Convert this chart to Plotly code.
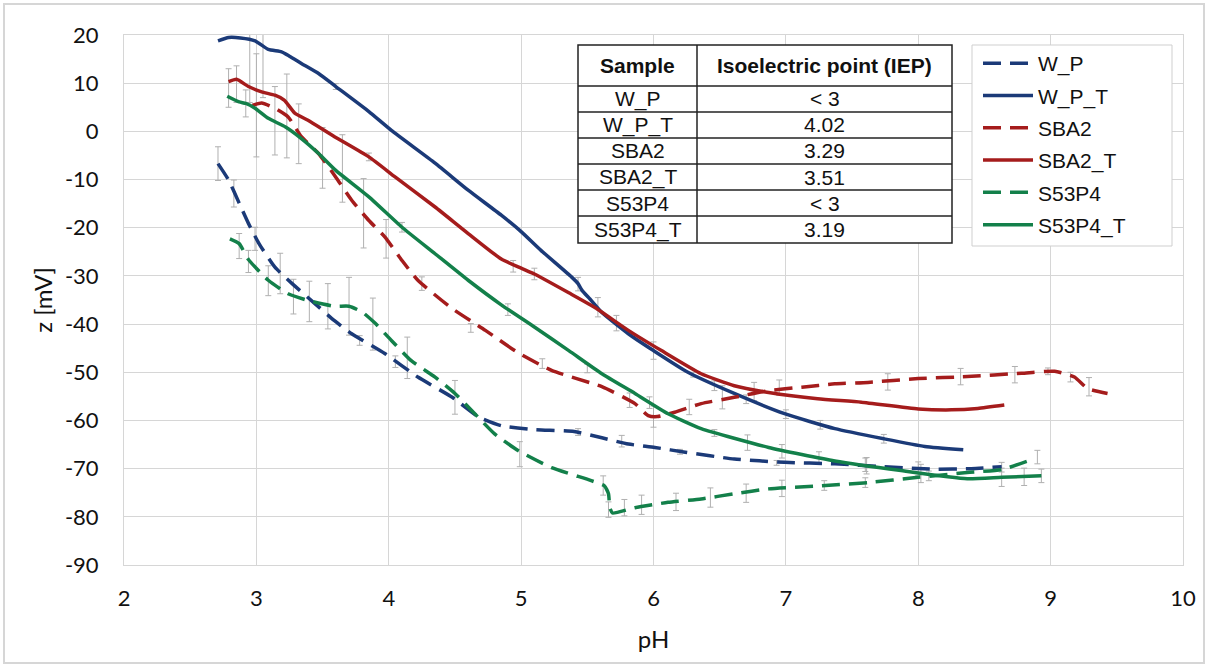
import plotly.graph_objects as go

# ---------------- data ----------------
WP_ph = [2.71, 2.79, 2.87, 2.94, 3.02, 3.14, 3.27, 3.44, 3.59, 3.72, 3.97, 4.22, 4.48, 4.68, 4.85,
         5.10, 5.40, 5.61, 5.81, 6.01, 6.24, 6.61, 6.99, 7.37, 7.74, 8.12, 8.40, 8.63]
WP_z = [-6.7, -10.1, -14.9, -19.1, -23.3, -28.2, -31.6, -35.7, -39.3, -42.0, -46.1, -51.0, -55.2, -59.3, -61.1,
        -61.9, -62.3, -63.6, -64.9, -65.6, -66.6, -68.0, -68.7, -69.0, -69.6, -70.1, -70.0, -69.6]

WPT_ph = [2.71, 2.79, 2.88, 2.99, 3.09, 3.19, 3.25, 3.34, 3.47, 3.60, 3.85, 4.02, 4.35, 4.60, 4.85, 5.00,
          5.15, 5.38, 5.43, 5.46, 5.52, 5.61, 5.81, 6.00, 6.26, 6.61, 6.99, 7.37, 7.74, 8.05, 8.34]
WPT_z = [18.8, 19.5, 19.4, 18.8, 17.0, 16.5, 15.6, 14.1, 12.0, 9.3, 4.1, 0.2, -6.6, -12.2, -17.4, -20.8,
         -24.7, -30.2, -31.6, -33.0, -34.8, -37.6, -42.0, -45.5, -50.0, -54.4, -58.6, -61.7, -63.8, -65.4, -66.1]

SBA2_ph = [2.97, 3.04, 3.14, 3.24, 3.34, 3.47, 3.60, 3.72, 3.85, 3.97, 4.10, 4.22, 4.48, 4.73, 4.98, 5.23,
           5.61, 5.86, 5.96, 6.03, 6.16, 6.36, 6.61, 6.87, 7.12, 7.37, 7.62, 8.00, 8.37, 8.78, 9.03, 9.18,
           9.28, 9.43]
SBA2_z = [5.4, 5.9, 4.8, 3.0, -1.1, -4.6, -9.5, -14.3, -18.5, -21.9, -26.8, -30.9, -36.8, -41.3, -46.0, -49.6,
          -53.0, -56.5, -59.0, -59.2, -58.3, -56.5, -55.2, -53.8, -53.1, -52.4, -52.1, -51.3, -50.9, -50.2, -49.8, -51.0,
          -53.4, -54.4]

SBA2T_ph = [2.79, 2.85, 2.94, 3.04, 3.14, 3.21, 3.29, 3.39, 3.59, 3.85, 4.05, 4.35, 4.60, 4.85, 5.00, 5.10, 5.36,
            5.56, 5.81, 6.06, 6.36, 6.61, 6.87, 7.24, 7.57, 8.00, 8.25, 8.45, 8.65]
SBA2T_z = [10.3, 10.8, 9.3, 8.2, 7.5, 6.5, 3.8, 2.3, -1.1, -5.3, -9.5, -15.7, -21.2, -26.5, -28.4, -29.6, -33.5,
           -36.6, -41.3, -45.5, -50.3, -52.8, -54.2, -55.5, -56.2, -57.6, -57.8, -57.5, -56.8]

S53_ph = [2.80, 2.87, 2.94, 3.09, 3.24, 3.39, 3.59, 3.70, 3.80, 3.90, 4.02, 4.17, 4.35, 4.50, 4.65, 4.80,
          4.98, 5.23, 5.53, 5.63, 5.66, 5.67, 5.69, 5.86, 6.11, 6.36, 6.61, 6.87, 7.24, 7.62, 8.00, 8.37,
          8.63, 8.83]
S53_z = [-22.3, -23.3, -26.6, -30.9, -33.7, -35.1, -36.3, -36.3, -37.5, -39.9, -43.4, -47.6, -51.0, -54.4, -58.6, -62.8,
         -66.3, -69.8, -72.5, -73.6, -75.2, -78.1, -79.2, -78.1, -77.0, -76.3, -75.2, -74.2, -73.6, -72.9, -71.8, -70.8,
         -70.2, -68.4]

S53T_ph = [2.78, 2.87, 2.92, 2.99, 3.09, 3.22, 3.34, 3.47, 3.60, 3.85, 4.10, 4.35, 4.60, 4.85, 5.10, 5.36,
           5.61, 5.86, 6.11, 6.36, 6.87, 7.37, 7.87, 8.37, 8.63, 8.93]
S53T_z = [7.3, 6.1, 5.8, 4.8, 2.7, 0.9, -1.5, -4.6, -8.1, -13.6, -19.9, -25.4, -30.9, -36.0, -40.6, -45.5,
          -50.3, -54.4, -58.6, -61.7, -65.6, -68.4, -70.4, -72.1, -71.8, -71.5]

# error bars (pH, centre z, +/- value)
WP_err_ph = [2.71, 2.83, 2.99, 3.18, 3.78, 4.05, 5.43, 5.76, 6.20, 6.93, 7.61, 8.00, 8.63]
WP_err_z = [-6.7, -12.9, -22.3, -29.5, -43.4, -47.8, -62.4, -64.3, -66.5, -68.8, -69.4, -70.0, -69.7]
WP_err_e = [3.5, 2.8, 2.4, 4.2, 1.0, 1.2, 0.7, 1.2, 0.5, 0.5, 1.7, 1.4, 1.0]

WPT_err_ph = [2.95, 3.05, 3.60, 5.43, 5.58, 5.72, 6.00, 6.30, 6.46, 6.70, 7.00, 7.26, 7.74]
WPT_err_z = [19.0, 18.0, 9.3, -31.7, -36.5, -39.8, -45.5, -50.5, -52.8, -55.6, -58.7, -60.9, -63.8]
WPT_err_e = [13.0, 11.0, 0.6, 1.4, 2.0, 1.6, 1.8, 0.5, 1.0, 0.9, 0.9, 0.9, 0.9]

SBA2_err_ph = [3.00, 3.23, 3.50, 3.81, 3.98, 4.25, 4.62, 5.16, 5.82, 6.00, 6.27, 6.52, 6.76, 6.95, 7.77,
               8.32, 8.73, 8.98, 9.15, 9.29]
SBA2_err_z = [5.4, 3.2, -5.5, -17.0, -22.3, -31.6, -40.8, -48.2, -55.8, -59.2, -57.2, -55.2, -54.0, -53.2, -52.0,
              -50.9, -50.5, -49.8, -51.0, -53.0]
SBA2_err_e = [10.7, 8.7, 6.3, 7.2, 4.0, 1.4, 0.9, 1.0, 1.5, 2.2, 1.6, 2.4, 1.9, 1.6, 1.7,
              1.7, 1.7, 0.7, 1.0, 1.9]

SBA2T_err_ph = [2.79, 2.85, 3.85, 4.94, 5.10]
SBA2T_err_z = [9.0, 9.8, -5.3, -28.0, -29.6]
SBA2T_err_e = [4.0, 3.8, 0.8, 1.2, 1.2]

S53_err_ph = [2.87, 2.94, 3.09, 3.28, 3.40, 3.54, 3.70, 3.88, 4.14, 4.50, 4.99, 5.62, 5.66, 5.78, 5.91,
              6.17, 6.43, 6.70, 6.97, 7.29, 7.60, 8.08, 8.90]
S53_err_z = [-23.8, -27.0, -31.0, -34.3, -35.3, -36.3, -36.3, -40.0, -47.0, -55.2, -67.0, -73.5, -78.5, -78.1, -77.5,
             -76.9, -76.0, -75.1, -74.1, -73.5, -72.9, -71.5, -67.6]
S53_err_e = [2.6, 2.3, 3.1, 3.6, 4.2, 4.7, 6.0, 5.4, 4.3, 3.5, 2.6, 2.0, 1.6, 1.7, 2.0,
             1.8, 2.0, 1.9, 1.7, 1.0, 1.0, 1.0, 1.4]

S53T_err_ph = [2.92, 3.14, 3.32, 3.65, 4.10, 4.90, 5.50, 5.97, 6.46, 6.71, 6.97, 7.25, 7.60, 8.02, 8.63, 8.80, 8.93]
S53T_err_z = [5.8, 2.2, -0.5, -7.7, -19.9, -37.0, -49.2, -56.3, -62.6, -64.6, -66.4, -67.7, -69.2, -71.0, -71.8, -71.7, -71.5]
S53T_err_e = [2.8, 7.1, 6.2, 7.0, 1.0, 1.2, 0.9, 1.2, 0.7, 1.6, 1.4, 1.2, 1.4, 1.9, 1.9, 1.8, 1.4]

# IEP table
table_samples = ["W_P", "W_P_T", "SBA2", "SBA2_T", "S53P4", "S53P4_T"]
table_iep = ["< 3", "4.02", "3.29", "3.51", "< 3", "3.19"]
table_header = ["Sample", "Isoelectric point (IEP)"]

x_ticks = [2, 3, 4, 5, 6, 7, 8, 9, 10]
y_ticks = [20, 10, 0, -10, -20, -30, -40, -50, -60, -70, -80, -90]

# ---------------- styling ----------------
NAVY = "#1b3a78"
RED = "#a51c1c"
GREEN = "#13804a"
DASH = "18px,9px"
LW = 3.5
AXFONT = "Lato, 'Open Sans', sans-serif"
TBFONT = "'Liberation Sans', Arial, sans-serif"

W, H = 1208, 666
L, R, T, B = 124, 1183, 35, 565
PW, PH = R - L, B - T


def px(xp):
    return (xp - L) / PW


def py(yp):
    return (B - yp) / PH


fig = go.Figure()

err_sets = [
    (WP_err_ph, WP_err_z, WP_err_e),
    (WPT_err_ph, WPT_err_z, WPT_err_e),
    (SBA2_err_ph, SBA2_err_z, SBA2_err_e),
    (SBA2T_err_ph, SBA2T_err_z, SBA2T_err_e),
    (S53_err_ph, S53_err_z, S53_err_e),
    (S53T_err_ph, S53T_err_z, S53T_err_e),
]
for ex, ez, ee in err_sets:
    fig.add_trace(go.Scatter(
        x=ex, y=ez, mode="markers", marker=dict(size=1, opacity=0),
        error_y=dict(type="data", array=ee, visible=True, color="#b0b0b0", thickness=1, width=3),
        showlegend=False, hoverinfo="skip"))

series = [
    ("W_P", WP_ph, WP_z, NAVY, DASH),
    ("W_P_T", WPT_ph, WPT_z, NAVY, "solid"),
    ("SBA2", SBA2_ph, SBA2_z, RED, DASH),
    ("SBA2_T", SBA2T_ph, SBA2T_z, RED, "solid"),
    ("S53P4", S53_ph, S53_z, GREEN, DASH),
    ("S53P4_T", S53T_ph, S53T_z, GREEN, "solid"),
]
for name, xs, ys, col, dash in series:
    fig.add_trace(go.Scatter(
        x=xs, y=ys, mode="lines", name=name, legendgroup=name,
        line=dict(color=col, width=LW, dash=dash, shape="spline", smoothing=0.5)))

# ---------------- table (shapes + annotations) ----------------
tx0, tx1, tx2 = 578, 697, 952
row_edges = [45, 86, 112, 138, 164, 190, 216, 243]
TBL_LINE = dict(color="#222", width=1.5)
shapes = []
shapes.append(dict(type="rect", xref="paper", yref="paper", x0=px(tx0), x1=px(tx2),
                   y0=py(row_edges[-1]), y1=py(row_edges[0]), line=TBL_LINE,
                   fillcolor="white", layer="above"))
for ye in row_edges[1:-1]:
    shapes.append(dict(type="line", xref="paper", yref="paper", x0=px(tx0), x1=px(tx2),
                       y0=py(ye), y1=py(ye), line=TBL_LINE, layer="above"))
shapes.append(dict(type="line", xref="paper", yref="paper", x0=px(tx1), x1=px(tx1),
                   y0=py(row_edges[-1]), y1=py(row_edges[0]), line=TBL_LINE, layer="above"))
# legend box
shapes.append(dict(type="rect", xref="paper", yref="paper", x0=px(972), x1=px(1172),
                   y0=py(246), y1=py(45), line=dict(color="#cfcfcf", width=1),
                   fillcolor="white", layer="above"))
# outer frame of the whole chart
shapes.append(dict(type="rect", xref="paper", yref="paper", x0=px(4), x1=px(1204),
                   y0=py(663), y1=py(4), line=dict(color="#d6d6d6", width=2), layer="below"))

annotations = []
for ci, htxt in enumerate(table_header):
    cx = (tx0 + tx1) / 2 if ci == 0 else (tx1 + tx2) / 2
    annotations.append(dict(xref="paper", yref="paper", x=px(cx), y=py((row_edges[0] + row_edges[1]) / 2),
                            text="<b>" + htxt + "</b>", showarrow=False, xanchor="center", yanchor="middle",
                            font=dict(family=TBFONT, size=21, color="#111")))
for ri, (s, v) in enumerate(zip(table_samples, table_iep)):
    ymid = (row_edges[ri + 1] + row_edges[ri + 2]) / 2
    annotations.append(dict(xref="paper", yref="paper", x=px((tx0 + tx1) / 2), y=py(ymid), text=s,
                            showarrow=False, xanchor="center", yanchor="middle",
                            font=dict(family=TBFONT, size=21, color="#111")))
    annotations.append(dict(xref="paper", yref="paper", x=px((tx1 + tx2) / 2), y=py(ymid), text=v,
                            showarrow=False, xanchor="center", yanchor="middle",
                            font=dict(family=TBFONT, size=21, color="#111")))

fig.update_layout(
    width=W, height=H,
    margin=dict(l=L, r=W - R, t=T, b=H - B, autoexpand=False),
    paper_bgcolor="white", plot_bgcolor="white",
    shapes=shapes, annotations=annotations,
    legend=dict(x=px(978), y=py(43), xanchor="left", yanchor="top",
                borderwidth=0, bgcolor="rgba(0,0,0,0)",
                font=dict(family=TBFONT, size=21, color="#111"),
                itemwidth=50, tracegroupgap=2, traceorder="grouped"),
    xaxis=dict(range=[2, 10], tickvals=x_ticks, ticktext=[str(v) for v in x_ticks],
               showgrid=True, gridcolor="#d6d6d6", gridwidth=1, zeroline=False,
               showline=True, linecolor="#d6d6d6", mirror=True, ticks="",
               ticklabelstandoff=14,
               tickfont=dict(family=AXFONT, size=22, color="#111"),
               title=dict(text="pH", font=dict(family=AXFONT, size=24, color="#111"), standoff=20)),
    yaxis=dict(range=[-90, 20], tickvals=y_ticks, ticktext=[str(v) for v in y_ticks],
               showgrid=True, gridcolor="#d6d6d6", gridwidth=1, zeroline=False,
               showline=True, linecolor="#d6d6d6", mirror=True, ticks="",
               ticklabelstandoff=20,
               tickfont=dict(family=AXFONT, size=22, color="#111"),
               title=dict(text="z [mV]", font=dict(family=AXFONT, size=24, color="#111"), standoff=5)),
)

fig.write_html("out.html", config={"displayModeBar": False},
               post_script="document.body.style.margin='0';document.body.style.overflow='hidden';")
